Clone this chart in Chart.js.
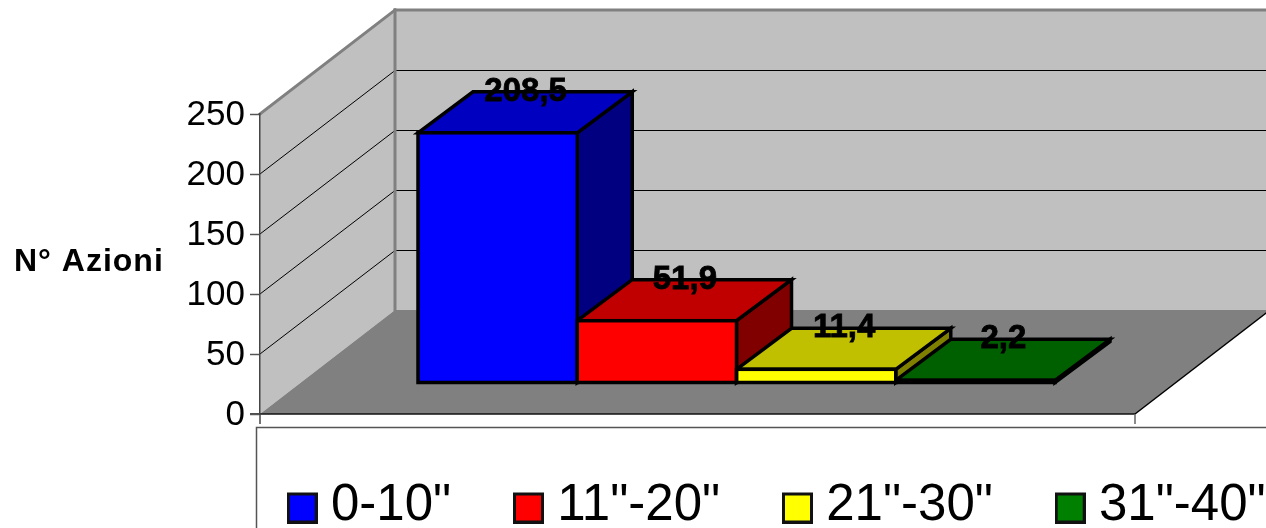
<!DOCTYPE html>
<html>
<head>
<meta charset="utf-8">
<title>N° Azioni</title>
<script src="https://cdn.jsdelivr.net/npm/chart.js@4/dist/chart.umd.min.js"></script>
<style>
    html, body { margin: 0; padding: 0; background: #fff; overflow: hidden; }
    #wrap { width: 1266px; height: 528px; }
</style>
</head>
<body>
<div id="wrap"><canvas id="azioniChart" width="1266" height="528"></canvas></div>
<script>
// Chart values
const axisTitle = 'N° Azioni';
const categories = [''];
const seriesNames = ['0-10"', '11"-20"', '21"-30"', '31"-40"'];
const seriesValues = [208.5, 51.9, 11.4, 2.2];
const frontColors = ['#0000ff', '#ff0000', '#ffff00', '#008000'];
const topColors = ['#0000c0', '#c00000', '#c0c000', '#006000'];
const sideColors = ['#000080', '#800000', '#808000', '#004000'];
const yTickStep = 50;
const yMax = 250;

// Fake 3D settings (pixels)
const wallDepth = { x: 135, y: -104 };
const barDepth = { x: 55, y: -41 };
const barShift = { x: 39, y: -31 };
const labelShift = { x: 28, y: -41 };
const edgeWidth = 3.5;

function polygon(ctx, points, fill, stroke, lineWidth) {
    ctx.beginPath();
    points.forEach((p, i) => i === 0 ? ctx.moveTo(p[0], p[1]) : ctx.lineTo(p[0], p[1]));
    ctx.closePath();
    if (fill) {
        ctx.fillStyle = fill;
        ctx.fill();
    }
    if (stroke) {
        ctx.strokeStyle = stroke;
        ctx.lineWidth = lineWidth;
        ctx.stroke();
    }
}

function line(ctx, x1, y1, x2, y2, color, width) {
    ctx.beginPath();
    ctx.moveTo(x1, y1);
    ctx.lineTo(x2, y2);
    ctx.strokeStyle = color;
    ctx.lineWidth = width;
    ctx.stroke();
}

// Legend square with its black outline, drawn as the point style.
// The empty strip on top pushes the square a little below the text centre.
function makeSwatch(color) {
    const c = document.createElement('canvas');
    c.width = 31;
    c.height = 36;
    const g = c.getContext('2d');
    g.fillStyle = '#111';
    g.fillRect(0, 5, 31, 31);
    g.fillStyle = color;
    g.fillRect(3, 8, 25, 25);
    return c;
}

const box3d = {
    id: 'box3d',
    beforeInit(chart) {
        // fixed legend band under the floor
        const fit = chart.legend.fit;
        chart.legend.fit = function () {
            fit.call(this);
            this.height = 114;
        };
    },
    afterLayout(chart) {
        chart.legend.left = 224.9;
        chart.legend.right = 1600;
        chart.legend.top = 406;
    },
    beforeDraw(chart) {
        const ctx = chart.ctx;
        const area = chart.chartArea;
        const y = chart.scales.y;
        const top = y.getPixelForValue(yMax);
        const zero = y.getPixelForValue(0);
        const d = wallDepth;

        ctx.save();
        // back wall, side wall, floor
        polygon(ctx, [[area.left + d.x, top + d.y], [area.right + d.x, top + d.y],
            [area.right + d.x, zero + d.y], [area.left + d.x, zero + d.y]], '#c0c0c0');
        polygon(ctx, [[area.left, top], [area.left + d.x, top + d.y],
            [area.left + d.x, zero + d.y], [area.left, zero]], '#c0c0c0');
        polygon(ctx, [[area.left, zero], [area.right, zero],
            [area.right + d.x, zero + d.y], [area.left + d.x, zero + d.y]], '#808080');

        // gridlines running along both walls
        y.ticks.forEach(t => {
            if (t.value === 0 || t.value === yMax) return;
            const py = y.getPixelForValue(t.value);
            const backY = Math.round(py + d.y) + 0.5;
            line(ctx, area.left, py, area.left + d.x, backY, '#000', 1);
            line(ctx, area.left + d.x, backY, area.right + d.x, backY, '#000', 1);
        });

        // wall edges
        ctx.lineCap = 'square';
        line(ctx, area.left, top, area.left + d.x, top + d.y, '#808080', 3);
        line(ctx, area.left + d.x, top + d.y, area.left + d.x, zero + d.y, '#808080', 3);
        line(ctx, area.left + d.x, top + d.y, area.right + d.x, top + d.y, '#808080', 3);
        ctx.lineCap = 'butt';

        // floor front and right edges with their ticks
        line(ctx, area.left - 10, zero, area.right, zero, '#111', 1.5);
        line(ctx, area.right, zero, area.right + d.x, zero + d.y, '#000', 1.5);
        line(ctx, area.left, zero, area.left, zero + 10, '#444', 1.5);
        line(ctx, area.right, zero, area.right, zero + 10, '#666', 1.5);

        // frame around the legend
        ctx.strokeStyle = '#555';
        ctx.lineWidth = 1.5;
        ctx.strokeRect(256.5, 427.5, 1100, 200);

        // horizontal axis title
        ctx.fillStyle = '#000';
        ctx.font = 'bold 32px "Liberation Sans"';
        ctx.letterSpacing = '1px';
        ctx.textAlign = 'left';
        ctx.textBaseline = 'middle';
        ctx.fillText(axisTitle, 14, 262.5);
        ctx.restore();
    },
    beforeDatasetsDraw(chart) {
        const ctx = chart.ctx;
        ctx.save();
        ctx.translate(barShift.x, barShift.y);
        ctx.lineJoin = 'miter';

        // tops and sides go left to right, each one covers its neighbour's side
        chart.data.datasets.forEach((ds, i) => {
            const bar = chart.getDatasetMeta(i).data[0];
            const left = bar.x - bar.width / 2;
            const right = bar.x + bar.width / 2;
            const dx = barDepth.x;
            const dy = barDepth.y;
            polygon(ctx, [[right, bar.y], [right + dx, bar.y + dy], [right + dx, bar.base + dy], [right, bar.base]],
                sideColors[i], '#000', edgeWidth);
            polygon(ctx, [[left, bar.y], [left + dx, bar.y + dy], [right + dx, bar.y + dy], [right, bar.y]],
                topColors[i], '#000', edgeWidth);
        });
    },
    afterDatasetsDraw(chart) {
        const ctx = chart.ctx;

        // front outlines share their edges
        chart.data.datasets.forEach((ds, i) => {
            const bar = chart.getDatasetMeta(i).data[0];
            ctx.strokeStyle = '#000';
            ctx.lineWidth = edgeWidth;
            ctx.strokeRect(bar.x - bar.width / 2, bar.y, bar.width, bar.base - bar.y);
        });

        // value labels with decimal comma, slightly thickened
        ctx.fillStyle = '#000';
        ctx.strokeStyle = '#000';
        ctx.lineWidth = 0.8;
        ctx.font = 'bold 33px "Liberation Sans"';
        ctx.textAlign = 'center';
        ctx.textBaseline = 'middle';
        chart.data.datasets.forEach((ds, i) => {
            const bar = chart.getDatasetMeta(i).data[0];
            const text = ds.data[0].toFixed(1).replace('.', ',');
            ctx.fillText(text, bar.x + labelShift.x, bar.y + labelShift.y);
            ctx.strokeText(text, bar.x + labelShift.x, bar.y + labelShift.y);
        });
        ctx.restore();
    }
};

const datasets = seriesNames.map((name, i) => ({
    label: name,
    data: [seriesValues[i]],
    backgroundColor: frontColors[i],
    borderWidth: 0,
    categoryPercentage: 0.728,
    barPercentage: 1,
    clip: false
}));

new Chart(document.getElementById('azioniChart').getContext('2d'), {
    type: 'bar',
    data: { labels: categories, datasets: datasets },
    plugins: [box3d],
    options: {
        responsive: false,
        animation: false,
        layout: { padding: { top: 114, left: 0, right: 0, bottom: 0 } },
        plugins: {
            tooltip: { enabled: false },
            legend: {
                position: 'bottom',
                align: 'start',
                onClick: null,
                labels: {
                    color: '#000',
                    font: { family: '"Liberation Sans"', size: 51 },
                    padding: 74,
                    usePointStyle: true,
                    pointStyleWidth: 6.6,
                    generateLabels(chart) {
                        return seriesNames.map((name, i) => ({
                            text: name,
                            pointStyle: makeSwatch(frontColors[i]),
                            fillStyle: frontColors[i],
                            strokeStyle: '#000',
                            lineWidth: 3,
                            datasetIndex: i
                        }));
                    }
                }
            }
        },
        scales: {
            x: { display: false },
            y: {
                min: 0,
                max: yMax,
                afterFit(scale) { scale.width = 260; },
                ticks: {
                    stepSize: yTickStep,
                    color: '#000',
                    padding: 5,
                    labelOffset: 1,
                    font: { family: '"Liberation Sans"', size: 35 }
                },
                grid: { drawOnChartArea: false, drawTicks: true, tickLength: 10, tickColor: '#555', tickWidth: 1.5 },
                border: { color: '#444', width: 1.5 }
            },
            // keeps the floor's right end clear of the canvas edge
            rightGap: {
                position: 'right',
                type: 'linear',
                afterFit(scale) { scale.width = 131; },
                ticks: { display: false },
                grid: { display: false },
                border: { display: false }
            }
        }
    }
});
</script>
</body>
</html>
